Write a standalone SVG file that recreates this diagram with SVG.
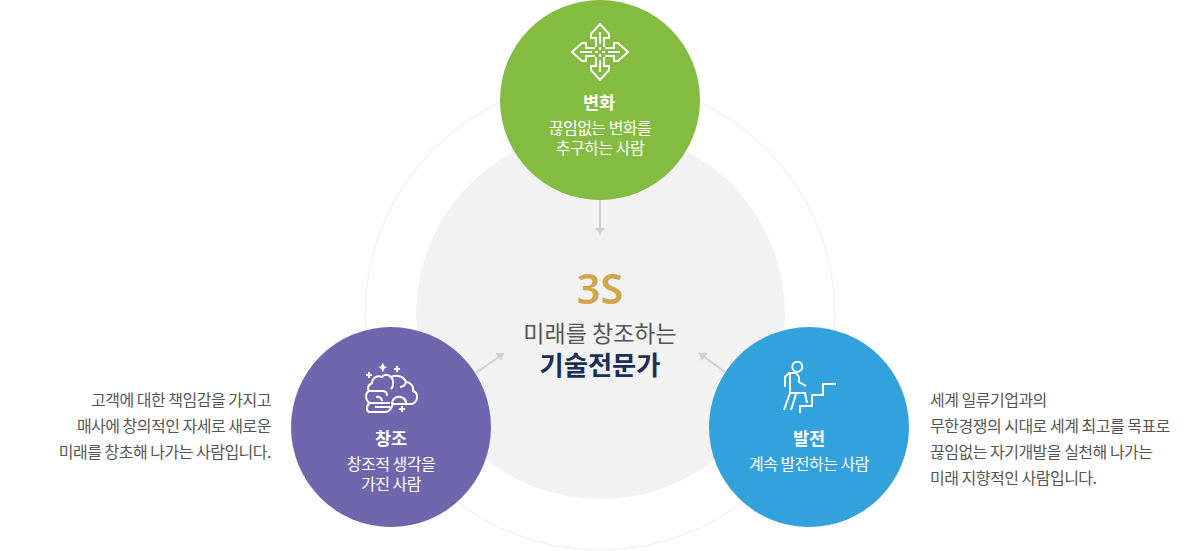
<svg xmlns="http://www.w3.org/2000/svg" width="1200" height="551" viewBox="0 0 1200 551">
<style>
text{font-family:"Noto Sans CJK KR","Noto Sans",sans-serif;text-anchor:middle}
.t{font-size:17.500px;font-weight:700;fill:#fff}
.s{font-size:16px;fill:#fff;letter-spacing:-.5px}
.d{font-size:16px;fill:#555;letter-spacing:-.5px}
.e{text-anchor:end}
.b{text-anchor:start}
.i{fill:none;stroke:#fff;stroke-width:2;stroke-linejoin:miter}
.c{fill:none;stroke:#d0d0d0;stroke-width:2}
</style>
<defs>
<marker id="a" markerUnits="userSpaceOnUse" markerWidth="8" markerHeight="10" refX="7" refY="5" orient="auto"><path d="M0,0L7,5L0,10Z" fill="#d0d0d0"/></marker>
</defs>
<rect width="1200" height="551" fill="#fff"/>
<g id="ring"><circle cx="600" cy="315" r="235" fill="#fff" stroke="#efefef" stroke-width="1"/></g>
<g id="center">
<circle cx="600.500" cy="314.500" r="184.500" fill="#f2f2f2"/>
<text x="600" y="304" font-size="41.500" font-weight="600" fill="#cfa64c" style="font-family:'Noto Sans',sans-serif">3S</text>
<text x="600" y="342" font-size="23" fill="#555">미래를 창조하는</text>
<text x="600" y="375" font-size="26.300" font-weight="700" fill="#1b2f57">기술전문가</text>
</g>
<g id="connectors">
<path class="c" d="M600,200V235" marker-end="url(#a)"/>
<path class="c" d="M476,373L504,353" marker-end="url(#a)"/>
<path class="c" d="M725,372L699,353" marker-end="url(#a)"/>
</g>
<g id="node-change">
<circle cx="600" cy="100" r="100" fill="#84bb41"/>
<g class="i">
<path d="M596,47V38H591V34L600,24L609,34V38H604V47M596,57V66H591V70L600,80L609,70V66H604V57M595,48H586V43H582L572,52L582,61H586V56H595M605,48H614V43H618L628,52L618,61H614V56H605"/>
<path d="M600,32V44M600,47V50M600,54V57M600,60V72M580,52H592M595,52H598M602,52H605M608,52H620"/>
</g>
<text class="t" x="599" y="109">변화</text>
<text class="s" x="600" y="134">끊임없는 변화를</text>
<text class="s" x="600" y="154">추구하는 사람</text>
</g>
<g id="node-create">
<circle cx="391" cy="427" r="100" fill="#6f66ae"/>
<g class="i">
<path d="M391,377C388,374 384,374 382,377C377,375 372,378 372,383C368,385 367,388 369,391C365,393 365,401 370,403C366,405 366,412 370,412H385C390,412 391,408 393,404H412C418,402 419,393 413,391C414,386 410,382 406,382C404,377 398,374 391,377C394,380 394,386 391,389"/>
<path d="M369,391H383C386,391 387,393 387,396M370,403H390M376,397C379,396 382,398 382,401M392,404C392,398 398,395 403,398C405,399 406,401 406,403M375,407H390M406,382C405,385 403,387 400,387"/>
<path stroke="none" fill="#fff" d="M382.700,362.500L384.500,366.500L387.500,367L384.500,368.500L382.700,372.500L381,368.500L378,367L381,366.500Z"/>
<path d="M397,366V372M394,369H400M369,372V378M366,375H372M402,406V412M399,409H405"/>
</g>
<text class="t" x="391" y="445">창조</text>
<text class="s" x="391" y="470">창조적 생각을</text>
<text class="s" x="391" y="490">가진 사람</text>
</g>
<g id="node-develop">
<circle cx="809" cy="427" r="100" fill="#33a2dc"/>
<g class="i">
<circle cx="797.300" cy="366.700" r="5"/>
<path d="M785,387V377L789,373H796L799,377V382L806,386M790,374V393H805L807,403M790,393L784,410M796,394L791,410M800,413V406H812V395H823V384H836"/>
</g>
<text class="t" x="809" y="445">발전</text>
<text class="s" x="809" y="470">계속 발전하는 사람</text>
</g>
<g id="desc-left">
<text class="d e" x="271" y="406">고객에 대한 책임감을 가지고</text>
<text class="d e" x="271" y="432">매사에 창의적인 자세로 새로운</text>
<text class="d e" x="271" y="458">미래를 창초해 나가는 사람입니다.</text>
</g>
<g id="desc-right">
<text class="d b" x="930" y="406">세계 일류기업과의</text>
<text class="d b" x="930" y="432">무한경쟁의 시대로 세계 최고를 목표로</text>
<text class="d b" x="930" y="458">끊임없는 자기개발을 실천해 나가는</text>
<text class="d b" x="930" y="484">미래 지향적인 사람입니다.</text>
</g>
</svg>
